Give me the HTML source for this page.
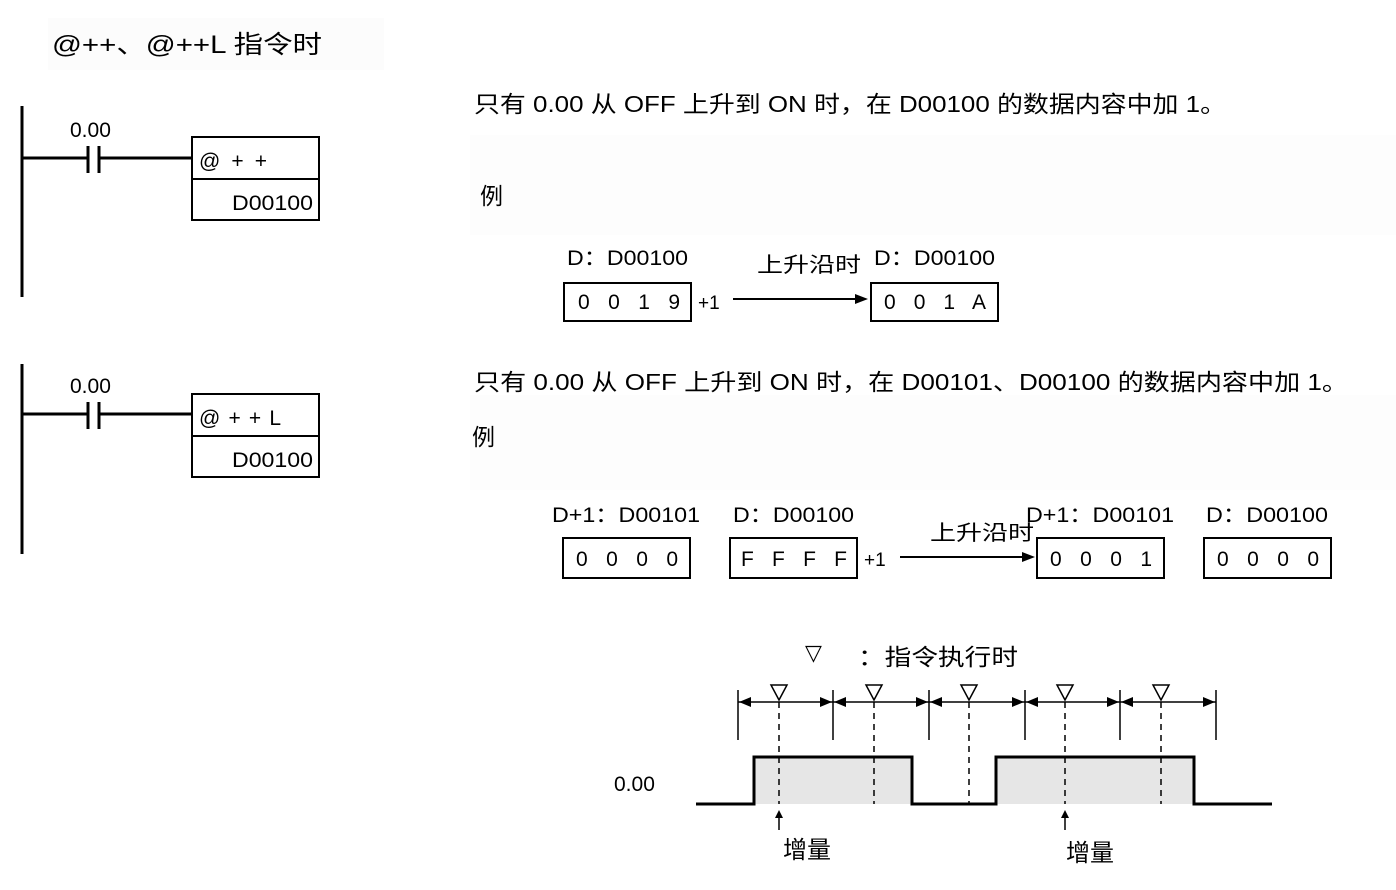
<!DOCTYPE html><html><head><meta charset="utf-8"><style>body{margin:0;background:#fff}</style></head><body>
<svg width="1396" height="885" xmlns="http://www.w3.org/2000/svg" font-family="Liberation Sans, Noto Sans CJK SC, sans-serif" fill="#000">
<rect x="48" y="18" width="336" height="52" fill="#fcfcfc"/>
<rect x="470" y="135" width="926" height="100" fill="#fdfdfd"/>
<rect x="470" y="395" width="926" height="95" fill="#fdfdfd"/>
<text x="52" y="53" font-size="25" textLength="270" lengthAdjust="spacingAndGlyphs">@++、@++L 指令时</text>
<g stroke="#000" stroke-width="3" fill="none">
<line x1="22" y1="106" x2="22" y2="297"/><line x1="22" y1="364" x2="22" y2="554"/>
<line x1="22" y1="158" x2="88" y2="158"/><line x1="99" y1="158" x2="192" y2="158"/>
<line x1="22" y1="414" x2="88" y2="414"/><line x1="99" y1="414" x2="192" y2="414"/>
<line x1="88" y1="146" x2="88" y2="173"/><line x1="99" y1="146" x2="99" y2="173"/>
<line x1="88" y1="402" x2="88" y2="429"/><line x1="99" y1="402" x2="99" y2="429"/>
</g>
<g stroke="#000" stroke-width="2" fill="none">
<rect x="192" y="137" width="127" height="83"/><line x1="192" y1="179" x2="319" y2="179"/>
<rect x="192" y="394" width="127" height="83"/><line x1="192" y1="436" x2="319" y2="436"/>
</g>
<g font-size="21"><text x="70" y="137">0.00</text><text x="70" y="393">0.00</text>
<text x="199" y="168" textLength="68">@++</text><text x="199" y="425" textLength="82">@++L</text>
<text x="232" y="210" textLength="81" lengthAdjust="spacingAndGlyphs">D00100</text><text x="232" y="467" textLength="81" lengthAdjust="spacingAndGlyphs">D00100</text></g>
<g font-size="23"><text x="474" y="112" textLength="752" lengthAdjust="spacingAndGlyphs">只有 0.00 从 OFF 上升到 ON 时，在 D00100 的数据内容中加 1。</text>
<text x="480" y="204">例</text>
<text x="474" y="390" textLength="874" lengthAdjust="spacingAndGlyphs">只有 0.00 从 OFF 上升到 ON 时，在 D00101、D00100 的数据内容中加 1。</text>
<text x="472" y="445">例</text></g>
<g font-size="21">
<text x="567" y="265" textLength="121" lengthAdjust="spacingAndGlyphs">D：D00100</text><text x="757" y="272" textLength="104" lengthAdjust="spacingAndGlyphs">上升沿时</text><text x="874" y="265" textLength="121" lengthAdjust="spacingAndGlyphs">D：D00100</text>
<text x="552" y="522" textLength="148" lengthAdjust="spacingAndGlyphs">D+1：D00101</text><text x="733" y="522" textLength="121" lengthAdjust="spacingAndGlyphs">D：D00100</text><text x="1026" y="522" textLength="148" lengthAdjust="spacingAndGlyphs">D+1：D00101</text><text x="1206" y="522" textLength="122" lengthAdjust="spacingAndGlyphs">D：D00100</text>
<text x="930" y="540" textLength="104" lengthAdjust="spacingAndGlyphs">上升沿时</text>
<text x="578" y="309" textLength="102">0 0 1 9</text><text x="884" y="309" textLength="102">0 0 1 A</text>
<text x="576" y="566" textLength="102">0 0 0 0</text><text x="741" y="566" textLength="106">F F F F</text><text x="1050" y="566" textLength="102">0 0 0 1</text><text x="1217" y="566" textLength="102">0 0 0 0</text>
<text x="698" y="309" font-size="19">+1</text><text x="864" y="566" font-size="19">+1</text>
</g>
<g stroke="#000" stroke-width="2" fill="none">
<rect x="564" y="283" width="127" height="38"/><rect x="871" y="283" width="127" height="38"/>
<rect x="563" y="538" width="127" height="40"/><rect x="730" y="538" width="127" height="40"/>
<rect x="1037" y="538" width="127" height="40"/><rect x="1204" y="538" width="127" height="40"/>
<line x1="733" y1="299" x2="858" y2="299"/><line x1="900" y1="557" x2="1025" y2="557"/>
</g>
<polygon points="868,299 855,294 855,304"/><polygon points="1035,557 1022,552 1022,562"/>
<text x="805" y="660" font-size="22" font-family="DejaVu Sans">▽</text>
<text x="858" y="665" font-size="23" textLength="160" lengthAdjust="spacingAndGlyphs">：指令执行时</text>
<path d="M754,804 V757 H912 V804 Z M996,804 V757 H1194 V804 Z" fill="#e6e6e6"/>
<path d="M696,804 H754 V757 H912 V804 H996 V757 H1194 V804 H1272" fill="none" stroke="#000" stroke-width="3"/>
<g stroke="#000" stroke-width="1.5">
<line x1="738" y1="690" x2="738" y2="740"/><line x1="833" y1="690" x2="833" y2="740"/><line x1="929" y1="690" x2="929" y2="740"/><line x1="1025" y1="690" x2="1025" y2="740"/><line x1="1120" y1="690" x2="1120" y2="740"/><line x1="1216" y1="690" x2="1216" y2="740"/>
<line x1="738" y1="702" x2="1216" y2="702"/>
</g>
<g stroke="#000" stroke-width="1.5" stroke-dasharray="6,5">
<line x1="779" y1="702" x2="779" y2="804"/><line x1="874" y1="702" x2="874" y2="804"/><line x1="969" y1="702" x2="969" y2="804"/><line x1="1065" y1="702" x2="1065" y2="804"/><line x1="1161" y1="702" x2="1161" y2="804"/>
</g>
<g>
<polygon points="739,702 751,697 751,707"/><polygon points="832,702 820,697 820,707"/>
<polygon points="834,702 846,697 846,707"/><polygon points="928,702 916,697 916,707"/>
<polygon points="930,702 942,697 942,707"/><polygon points="1024,702 1012,697 1012,707"/>
<polygon points="1026,702 1038,697 1038,707"/><polygon points="1119,702 1107,697 1107,707"/>
<polygon points="1121,702 1133,697 1133,707"/><polygon points="1215,702 1203,697 1203,707"/>
</g>
<g fill="#fff" stroke="#000" stroke-width="1.5">
<polygon points="771,685 787,685 779,700"/><polygon points="866,685 882,685 874,700"/><polygon points="961,685 977,685 969,700"/><polygon points="1057,685 1073,685 1065,700"/><polygon points="1153,685 1169,685 1161,700"/>
</g>
<g stroke="#000" stroke-width="1.5"><line x1="779" y1="812" x2="779" y2="830"/><line x1="1065" y1="812" x2="1065" y2="830"/></g>
<polygon points="779,810 775,818 783,818"/><polygon points="1065,810 1061,818 1069,818"/>
<text x="614" y="791" font-size="21">0.00</text>
<text x="783" y="858" font-size="24">增量</text><text x="1066" y="861" font-size="24">增量</text>
</svg></body></html>
